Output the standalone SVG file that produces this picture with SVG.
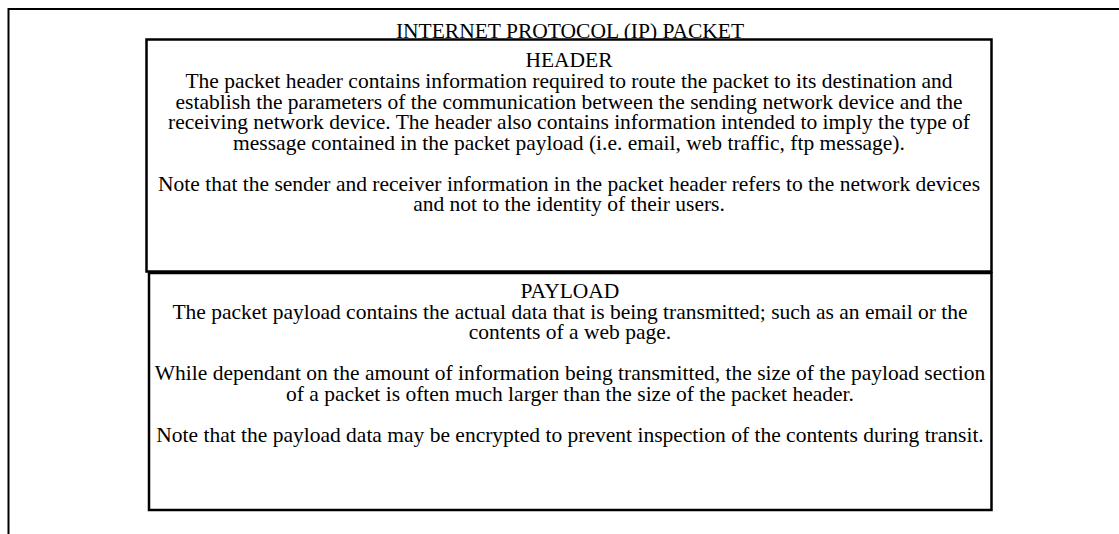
<svg xmlns="http://www.w3.org/2000/svg" width="1119" height="534" viewBox="0 0 1119 534">
<style>
.box{fill:#fff;stroke:#000;stroke-width:2.5}
.frame{fill:none;stroke:#000;stroke-width:2}
text{font-family:"Liberation Serif","Times New Roman",serif;font-size:21.5px;fill:#000;text-anchor:middle}
</style>
<rect width="1119" height="534" fill="#fff"/>
<g id="packet">
<rect class="frame" x="8.5" y="9" width="1130" height="540"/>
<text x="570" y="38">INTERNET PROTOCOL (IP) PACKET</text>
</g>
<g id="header">
<rect class="box" x="146.5" y="39.5" width="845" height="232"/>
<text x="569" y="67">HEADER</text>
<text x="569" y="88">The packet header contains information required to route the packet to its destination and</text>
<text x="569" y="108.5">establish the parameters of the communication between the sending network device and the</text>
<text x="569" y="129">receiving network device. The header also contains information intended to imply the type of</text>
<text x="569" y="149.5">message contained in the packet payload (i.e. email, web traffic, ftp message).</text>
<text x="569" y="190.5">Note that the sender and receiver information in the packet header refers to the network devices</text>
<text x="569" y="211">and not to the identity of their users.</text>
</g>
<g id="payload">
<rect class="box" x="149" y="273" width="842.5" height="237"/>
<text x="570" y="298">PAYLOAD</text>
<text x="570" y="318.5">The packet payload contains the actual data that is being transmitted; such as an email or the</text>
<text x="570" y="339">contents of a web page.</text>
<text x="570" y="380">While dependant on the amount of information being transmitted, the size of the payload section</text>
<text x="570" y="400.5">of a packet is often much larger than the size of the packet header.</text>
<text x="570" y="441.5">Note that the payload data may be encrypted to prevent inspection of the contents during transit.</text>
</g>
<g id="connectors"></g>
</svg>
